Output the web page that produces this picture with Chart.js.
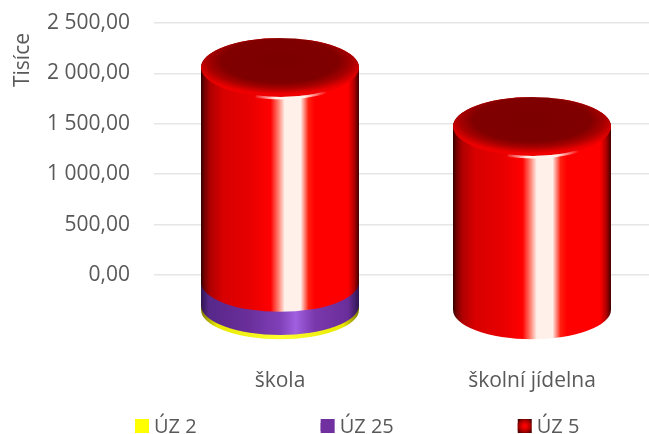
<!DOCTYPE html>
<html><head><meta charset="utf-8">
<style>html,body{margin:0;padding:0;background:#fff;overflow:hidden;width:649px;height:434px}
#w{position:absolute;left:0;top:0;width:720px;height:434px}
canvas{filter:blur(0.45px)}</style>
<script src="https://cdn.jsdelivr.net/npm/chart.js@4"></script>
</head><body><div id="w"><canvas id="c" width="720" height="434"></canvas></div>
<script>
const categories = ['škola', 'školní jídelna'];
const uz2 = [50, 0];
const uz25 = [230, 0];
const uz5 = [2130, 1825];
const axisTitle = 'Tisíce';
const yMax = 2500, yStep = 500;
const FONT = '"Open Sans"', TXT = '#595959';
const DEPTH = 35.5, RY = 29.5;

const ramps = {
  red: [[0,'#300000'],[.02,'#700000'],[.06,'#b00000'],[.14,'#d80000'],[.3,'#e60000'],[.44,'#ff0000'],[.49,'#ff8070'],[.53,'#fff0ea'],[.63,'#fff0ea'],[.68,'#ff2010'],[.72,'#ff0000'],[.93,'#ff0000'],[.97,'#b00000'],[1,'#400000']],
  purple: [[0,'#2e1650'],[.05,'#58288a'],[.3,'#6a2e9a'],[.5,'#8040b8'],[.6,'#a060e0'],[.72,'#7a38ac'],[.93,'#6a2e9a'],[1,'#2e1650']],
  yellow: [[0,'#807800'],[.1,'#e8e800'],[.5,'#ffff30'],[.9,'#e8e800'],[1,'#807800']]
};
function hGrad(ctx, x0, x1, stops){
  const g = ctx.createLinearGradient(x0,0,x1,0);
  stops.forEach(s=>g.addColorStop(s[0],s[1]));
  return g;
}
function side(ctx, x, rx, yTop, yBot, ramp){
  ctx.beginPath();
  ctx.moveTo(x-rx,yTop);
  ctx.lineTo(x-rx,yBot);
  ctx.ellipse(x,yBot,rx,RY,0,Math.PI,0,true);
  ctx.lineTo(x+rx,yTop);
  ctx.ellipse(x,yTop,rx,RY,0,0,Math.PI,true);
  ctx.closePath();
  ctx.fillStyle = hGrad(ctx,x-rx,x+rx,ramp);
  ctx.fill();
}
function cap(ctx, x, rx, y){
  ctx.save();
  ctx.translate(x,y); ctx.scale(1,RY/rx);
  ctx.beginPath(); ctx.arc(0,0,rx,0,Math.PI*2);
  ctx.save(); ctx.clip();
  const g = ctx.createRadialGradient(0,-rx*.22,0,0,-rx*.22,rx*1.12);
  g.addColorStop(0,'#7c0000'); g.addColorStop(.66,'#800000');
  g.addColorStop(.82,'#a80000'); g.addColorStop(.96,'#e00000'); g.addColorStop(1,'#ee0000');
  ctx.fillStyle=g; ctx.fillRect(-rx,-rx,rx*2,rx*2);
  ctx.restore();
  ctx.restore();
  const hl = ctx.createLinearGradient(x-27,0,x+47,0);
  hl.addColorStop(0,'rgba(255,255,255,0)'); hl.addColorStop(.3,'rgba(255,245,240,.95)');
  hl.addColorStop(.7,'rgba(255,245,240,.95)'); hl.addColorStop(1,'rgba(255,255,255,0)');
  ctx.beginPath(); ctx.ellipse(x,y,rx,RY+1,0,Math.PI*.3,Math.PI*.6);
  ctx.strokeStyle=hl; ctx.lineWidth=2.5; ctx.stroke();
}
let shifted=false;
const cylinders = {
  id:'cylinders',
  beforeDraw(chart){
    if(shifted) return;
    shifted=true;
    const lg = chart.legend, hb = lg.legendHitBoxes, pad = lg.options.labels.padding;
    const shiftY = 417 - hb[0].top;
    const shiftX = 135 - hb[0].left;
    lg.left += shiftX; lg.top += shiftY;
    lg.right = 720; lg.bottom = 434;
    hb.forEach(h=>{h.left+=shiftX;h.top+=shiftY;});
    hb[2].left = hb[1].left + hb[1].width + pad;
    hb[2].top = hb[0].top;
  },
  beforeDatasetsDraw(chart){
    const ctx = chart.ctx, names=['yellow','purple','red'];
    const n = chart.data.labels.length;
    for(let i=0;i<n;i++){
      let top=null, xc=0, rx=0;
      chart.data.datasets.forEach((ds,d)=>{
        if(!ds.data[i]) return;
        const el = chart.getDatasetMeta(d).data[i];
        xc=el.x; rx=el.width/2; top=el.y+DEPTH;
        side(ctx,el.x,rx,el.y+DEPTH,el.base+DEPTH,ramps[names[d]]);
      });
      cap(ctx,xc,rx,top);
    }
    return false;
  },
  afterDraw(chart){
    const ctx = chart.ctx, lg = chart.legend;
    ctx.save();
    ctx.translate(23,60); ctx.rotate(-Math.PI/2);
    ctx.font='21px '+FONT; ctx.fillStyle=TXT; ctx.textAlign='center'; ctx.textBaseline='middle';
    ctx.fillText(axisTitle,0,0);
    ctx.restore();
    lg.legendHitBoxes.forEach((h,i)=>{
      const cy=h.top+h.height/2, l=h.left, t=cy-8;
      if(i<2){ ctx.fillStyle=chart.data.datasets[i].backgroundColor; ctx.fillRect(l,t,14,14); }
      else {
        const g=ctx.createRadialGradient(l+7,t+7,1,l+7,t+7,9);
        g.addColorStop(0,'#ff0000'); g.addColorStop(.55,'#b00000'); g.addColorStop(1,'#400000');
        ctx.fillStyle=g; ctx.fillRect(l,t,14,14);
      }
    });
  }
};
const noPad=s=>{s.paddingTop=0;s.paddingBottom=0;s.paddingLeft=0;s.paddingRight=0;};
const mk=(label,data,color)=>({label,data,backgroundColor:color,stack:'s',categoryPercentage:.627,barPercentage:1});
new Chart(document.getElementById('c'),{
  type:'bar',
  data:{labels:categories,datasets:[mk('ÚZ 2',uz2,'#ffff00'),mk('ÚZ 25',uz25,'#7030a0'),mk('ÚZ 5',uz5,'#c00000')]},
  plugins:[cylinders],
  options:{
    responsive:false,animation:false,
    layout:{padding:{top:23,bottom:0,left:0,right:62}},
    plugins:{tooltip:{enabled:false},
      legend:{position:'bottom',align:'start',maxHeight:30,
        labels:{boxWidth:9,boxHeight:8,padding:124,color:TXT,font:{family:FONT,size:20}}}},
    scales:{
      x:{stacked:true,grid:{display:false},border:{display:false},
        ticks:{color:TXT,padding:85,maxRotation:0,font:{family:FONT,size:21}},
        afterFit(s){s.height=129;noPad(s);}},
      y:{stacked:true,min:0,max:yMax,grid:{color:'#e6e6e6',lineWidth:1.5,drawTicks:false},border:{display:false},
        ticks:{stepSize:yStep,color:TXT,padding:24,font:{family:FONT,size:21},
          callback:v=>v.toFixed(2).replace('.',',').replace(/\B(?=(\d{3})(?!\d))/,' ')},
        afterFit(s){s.width=154;noPad(s);}}
    }
  }
});
</script></body></html>
